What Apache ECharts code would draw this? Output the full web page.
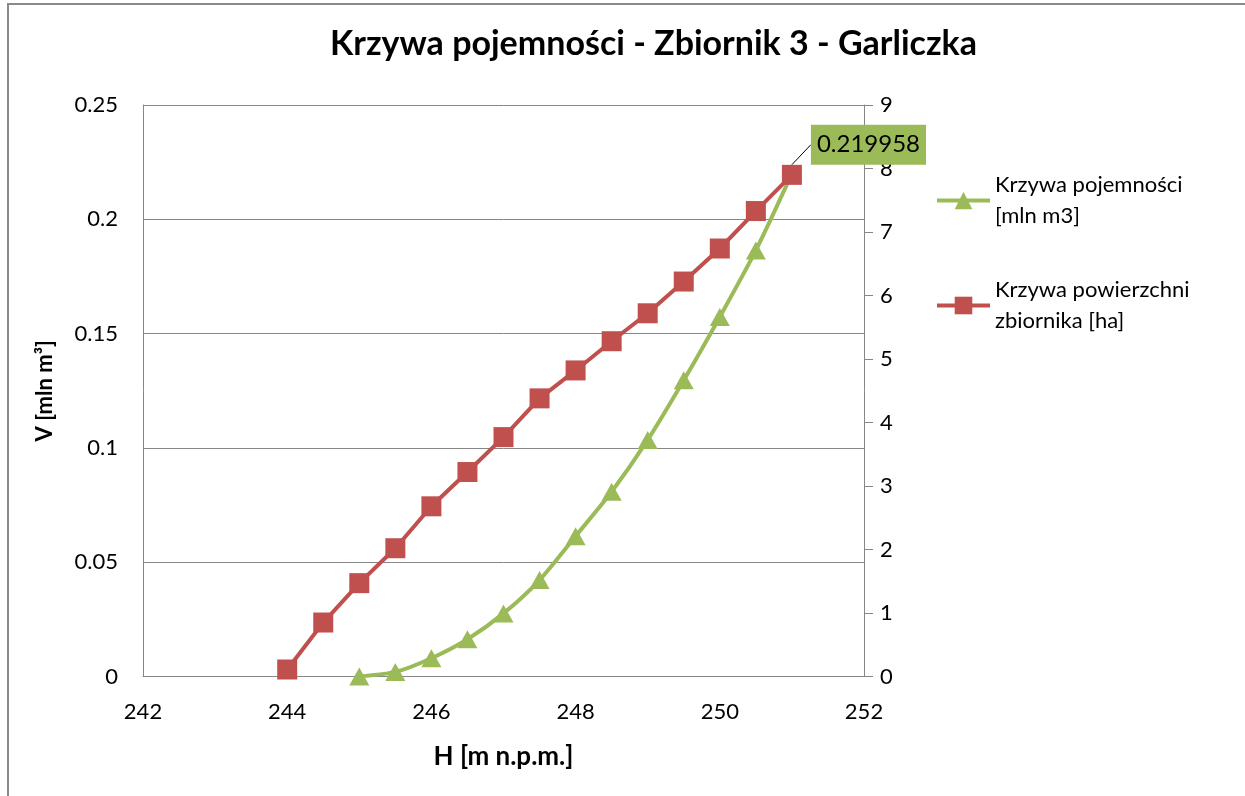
<!DOCTYPE html>
<html>
<head>
<meta charset="utf-8">
<script src="https://cdn.jsdelivr.net/npm/echarts@6/dist/echarts.min.js"></script>
<style>
  html, body { margin: 0; padding: 0; background: #fff; }
  #chart { width: 1245px; height: 796px; }
</style>
</head>
<body>
<div id="chart"></div>
<script>
// Water level H [m n.p.m.] for each curve
const levelsVolume = [245, 245.5, 246, 246.5, 247, 247.5, 248, 248.5, 249, 249.5, 250, 250.5, 251];
const levelsArea = [244, 244.5, 245, 245.5, 246, 246.5, 247, 247.5, 248, 248.5, 249, 249.5, 250, 250.5, 251];

// Storage volume [mln m3]
const volume = [0, 0.002, 0.008, 0.0163, 0.0276, 0.0422, 0.0614, 0.0808, 0.1035, 0.1296, 0.1573, 0.1864, 0.219958];
// Reservoir surface area [ha]
const area = [0.11, 0.85, 1.47, 2.02, 2.68, 3.22, 3.77, 4.38, 4.82, 5.28, 5.72, 6.22, 6.74, 7.33, 7.9];

const seriesNames = ['Krzywa pojemności\n[mln m3]', 'Krzywa powierzchni\nzbiornika [ha]'];
const titleText = 'Krzywa pojemności - Zbiornik 3 - Garliczka';
const xName = 'H [m n.p.m.]';
const yLeftName = 'V [mln m³]';

const GREEN = '#9BBB59';
const RED = '#C0504D';
const AXIS = '#868686';
const FONT = 'Lato';

const zip = (xs, ys) => xs.map((x, i) => [x, ys[i]]);
const volumeData = zip(levelsVolume, volume).map((p, i, arr) =>
  i === arr.length - 1
    ? {
        value: p,
        label: {
          show: true,
          position: 'right',
          formatter: (p) => String(p.value[1]),
          backgroundColor: GREEN,
          color: '#000',
          fontFamily: FONT,
          fontSize: 24,
          padding: [9, 6, 7, 6]
        },
        labelLine: { show: true, lineStyle: { color: '#000', width: 1 } }
      }
    : p
);

const chart = echarts.init(document.getElementById('chart'), null, { renderer: 'canvas' });

chart.setOption({
  animation: false,
  backgroundColor: '#fff',
  title: {
    text: titleText,
    left: 325,
    top: 22,
    textStyle: { fontFamily: FONT, fontWeight: 'bold', fontSize: 34, color: '#000' }
  },
  graphic: [{
    type: 'rect',
    silent: true,
    shape: { x: 8, y: 4, width: 1400, height: 900 },
    style: { fill: 'none', stroke: '#8a8a8a', lineWidth: 2 }
  }],
  grid: { left: 143, right: 381, top: 105, bottom: 119.5, containLabel: false },
  legend: {
    orient: 'vertical',
    left: 935,
    top: 154,
    padding: 0,
    itemWidth: 53,
    itemHeight: 22,
    itemGap: 12,
    lineStyle: { width: 4 },
    textStyle: {
      fontFamily: FONT, fontSize: 22, color: '#000',
      lineHeight: 31, padding: [31, 0, 0, 0]
    },
    data: seriesNames
  },
  xAxis: {
    type: 'value',
    min: 242, max: 252, interval: 2,
    name: xName,
    nameLocation: 'middle',
    nameGap: 67,
    nameTextStyle: { fontFamily: FONT, fontWeight: 'bold', fontSize: 26, color: '#000' },
    axisLine: { show: true, lineStyle: { color: AXIS, width: 1 } },
    axisTick: { show: false },
    splitLine: { show: false },
    axisLabel: { fontFamily: FONT, fontSize: 22, color: '#000', margin: 24 }
  },
  yAxis: [{
    type: 'value',
    min: 0, max: 0.25, interval: 0.05,
    name: yLeftName,
    nameLocation: 'middle',
    nameGap: 87,
    nameRotate: 90,
    nameTextStyle: { fontFamily: FONT, fontWeight: 'bold', fontSize: 22, color: '#000' },
    axisLine: { show: true, lineStyle: { color: AXIS, width: 1 } },
    axisTick: { show: false },
    splitLine: { show: true, lineStyle: { color: AXIS, width: 1 } },
    axisLabel: { fontFamily: FONT, fontSize: 22, color: '#000', margin: 25 }
  }, {
    type: 'value',
    position: 'right',
    min: 0, max: 9, interval: 1,
    axisLine: { show: true, lineStyle: { color: AXIS, width: 1 } },
    axisTick: { show: true, inside: false, length: 9, lineStyle: { color: AXIS } },
    splitLine: { show: false },
    axisLabel: { fontFamily: FONT, fontSize: 22, color: '#000', margin: 16 }
  }],
  series: [{
    name: seriesNames[0],
    type: 'line',
    yAxisIndex: 0,
    data: volumeData,
    smooth: 0.25,
    symbol: 'triangle',
    symbolSize: [20, 18],
    itemStyle: { color: GREEN },
    lineStyle: { color: GREEN, width: 4 },
    labelLayout: { dx: 4, dy: -29 },
    z: 2
  }, {
    name: seriesNames[1],
    type: 'line',
    yAxisIndex: 1,
    data: zip(levelsArea, area),
    symbol: 'rect',
    symbolSize: 20,
    itemStyle: { color: RED },
    lineStyle: { color: RED, width: 4 },
    z: 3
  }]
});
</script>
</body>
</html>
